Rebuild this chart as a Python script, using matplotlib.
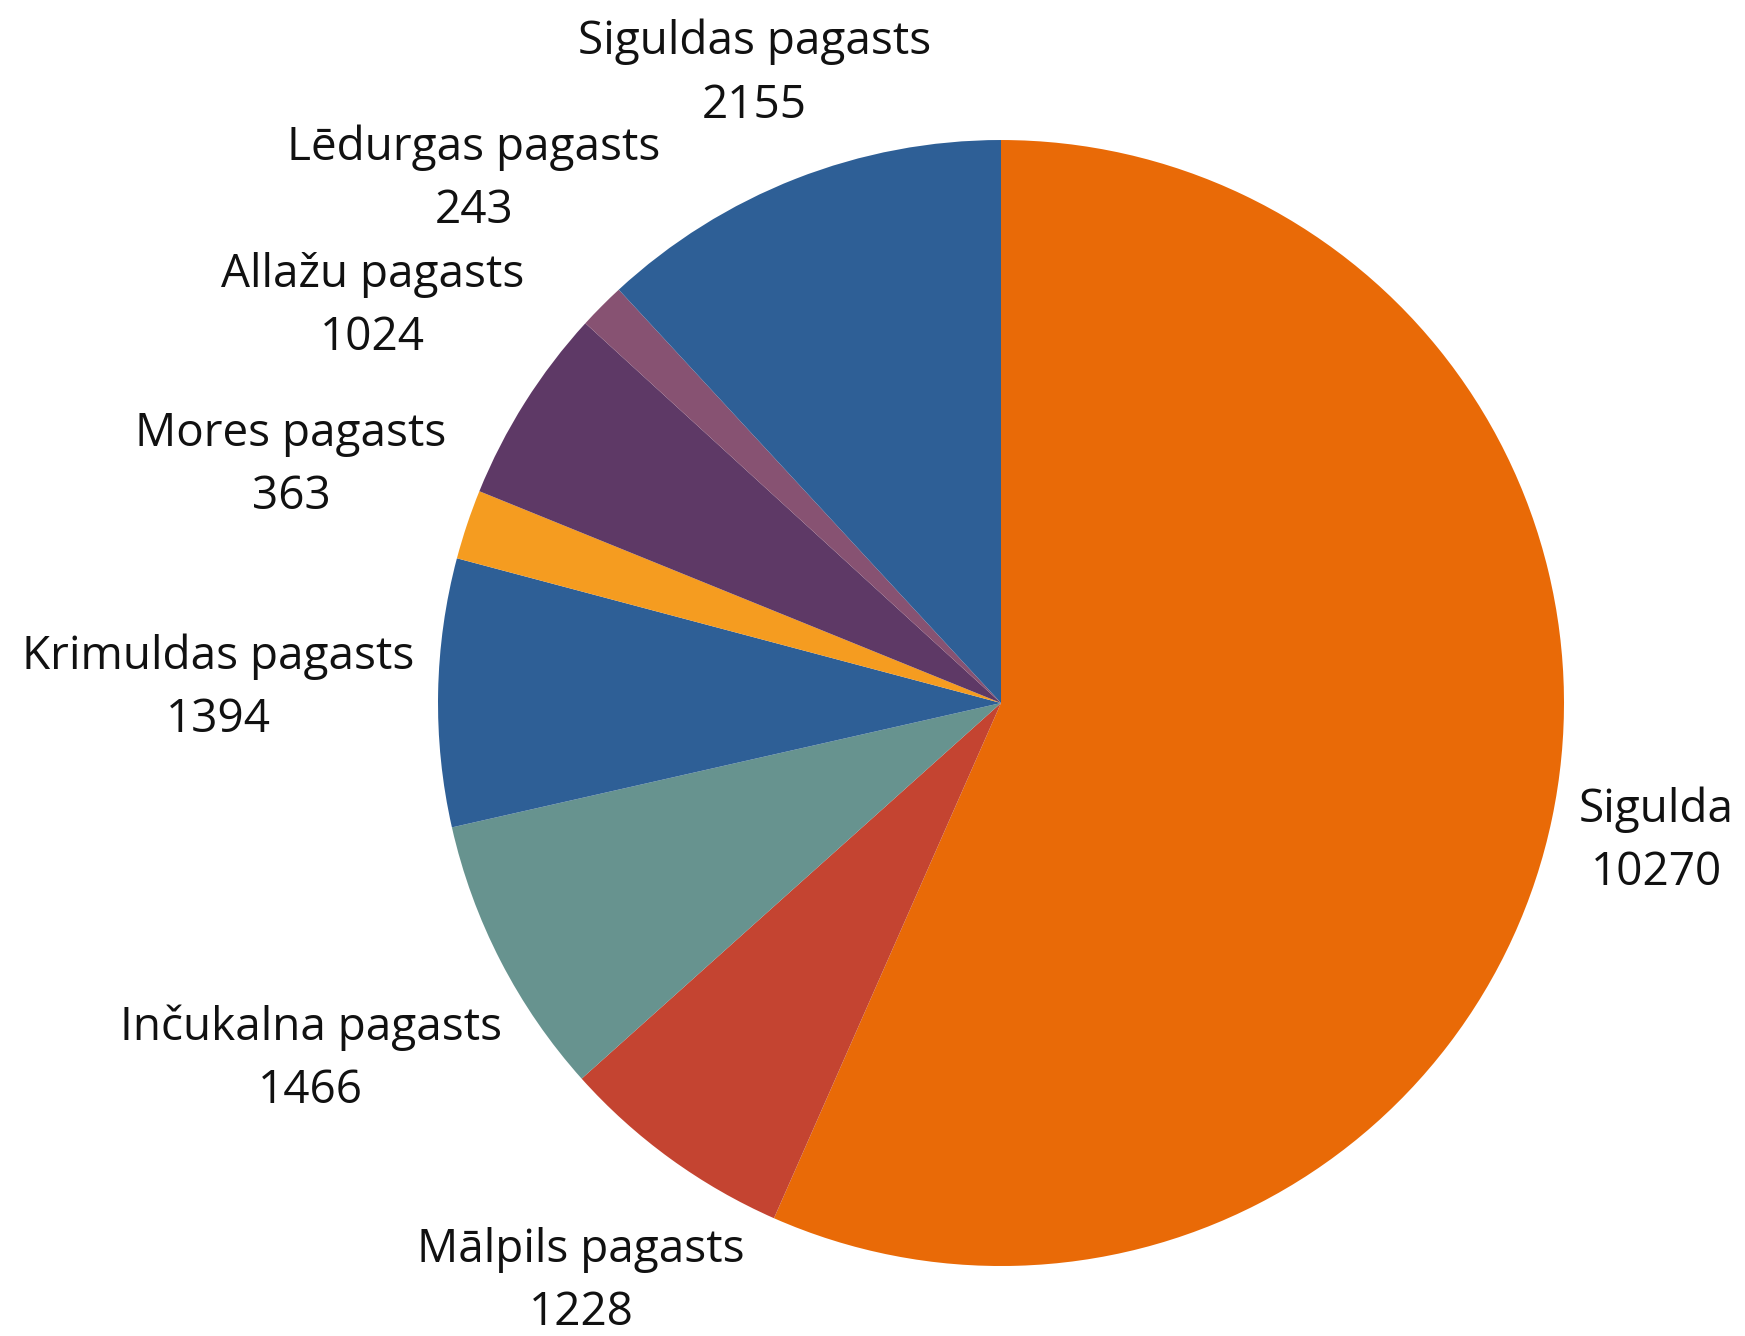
import numpy as np
import matplotlib
matplotlib.use('Agg')
import matplotlib.pyplot as plt

names = ['Sigulda', 'Mālpils pagasts', 'Inčukalna pagasts', 'Krimuldas pagasts',
         'Mores pagasts', 'Allažu pagasts', 'Lēdurgas pagasts', 'Siguldas pagasts']
values = [10270, 1228, 1466, 1394, 363, 1024, 243, 2155]
colors = ['#E96A07', '#C44431', '#67938F', '#2E5F96',
          '#F59C20', '#5E3966', '#875272', '#2E5F96']
label_dist = [1.19, 1.27, 1.38, 1.39, 1.33, 1.32, 1.32, 1.20]

plt.rcParams['font.family'] = ['Open Sans', 'DejaVu Sans']

fig = plt.figure(figsize=(17.45, 13.36), dpi=100)
ax = fig.add_axes([0, 0, 1, 1])
wedges, _ = ax.pie(values, colors=colors, startangle=90, counterclock=False,
                   radius=1, wedgeprops=dict(linewidth=0))
ax.set_xlim(-1.778, 1.3215)
ax.set_ylim(-1.1243, 1.2487)
ax.set_aspect('equal')
ax.axis('off')

for w, n, v, d in zip(wedges, names, values, label_dist):
  a = np.deg2rad((w.theta1 + w.theta2) / 2)
  ax.text(d * np.cos(a), d * np.sin(a), n + '\n' + str(v), ha='center', va='center',
          fontsize=33, linespacing=1.5, color='#111111')

plt.savefig('out.png', dpi=100)
